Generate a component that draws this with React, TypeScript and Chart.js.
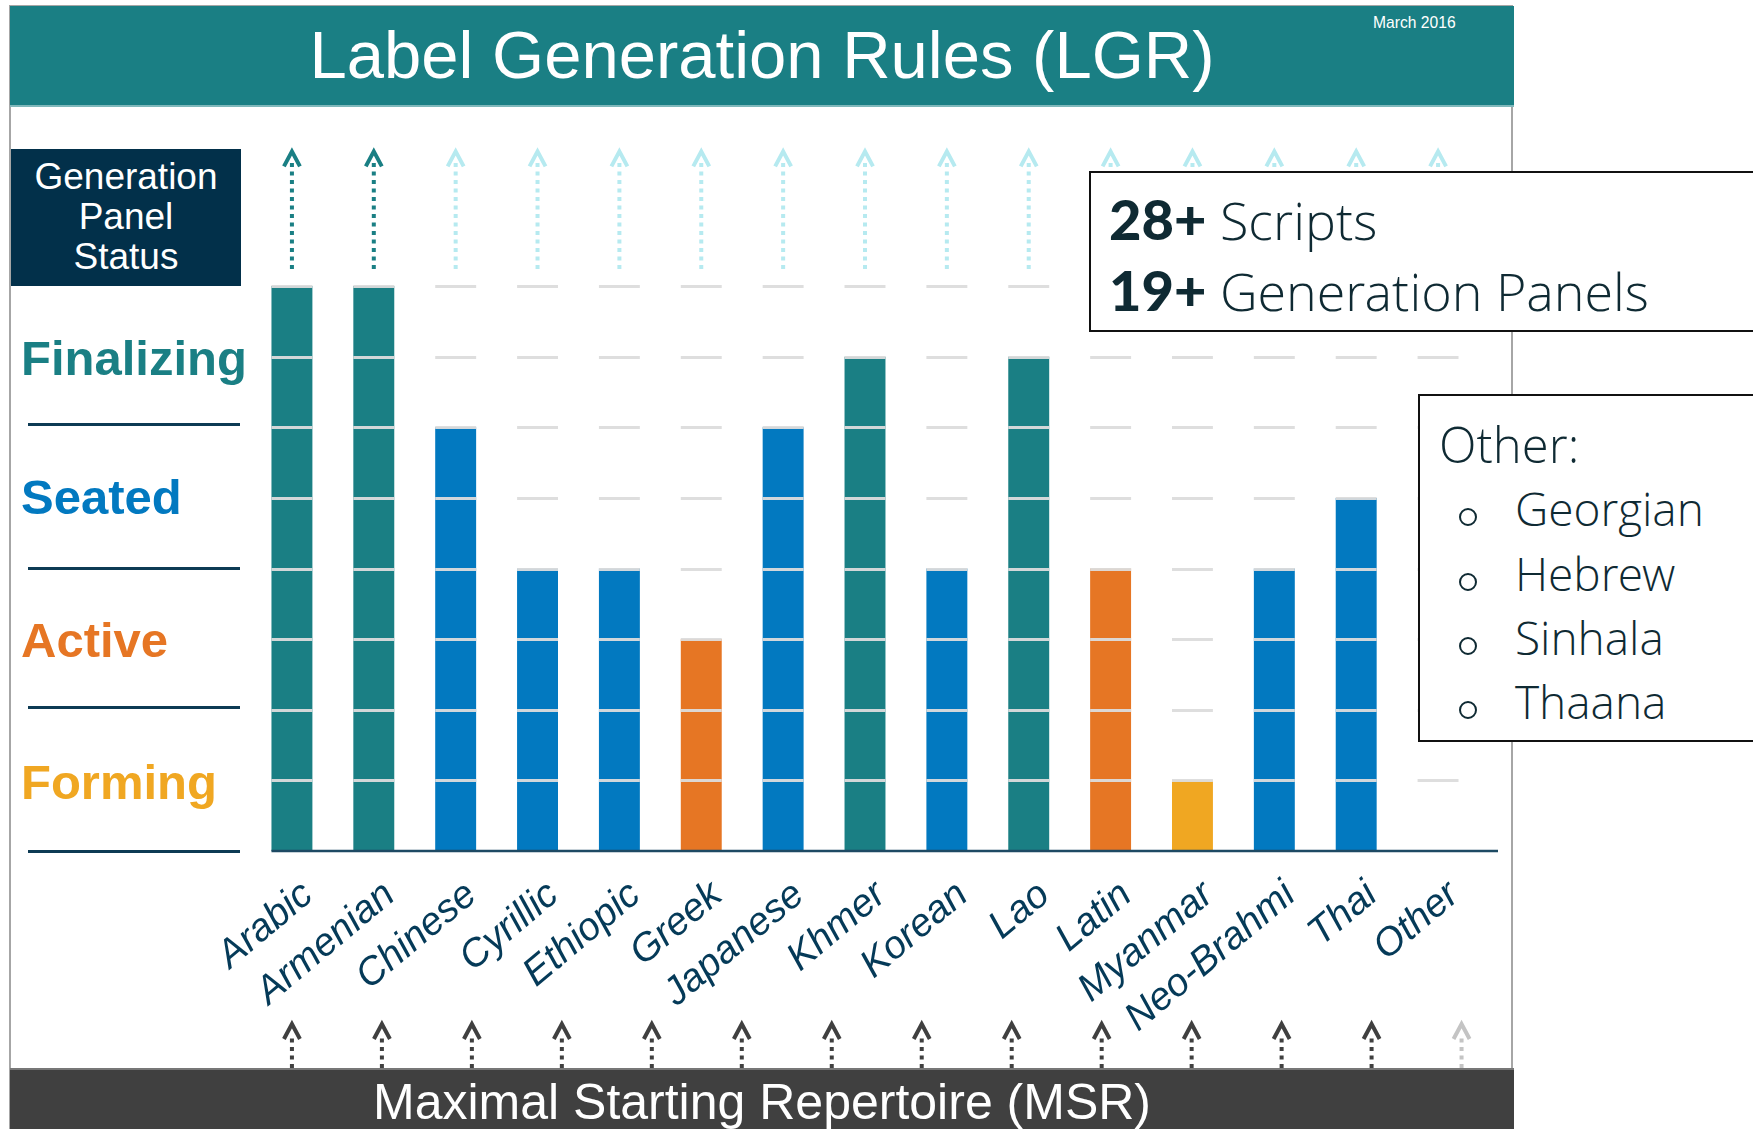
import React, { useEffect, useRef } from "react";
import { Chart, registerables } from "chart.js";

Chart.register(...registerables);

// ---------- data ----------
const scripts = ["Arabic", "Armenian", "Chinese", "Cyrillic", "Ethiopic", "Greek", "Japanese", "Khmer", "Korean", "Lao", "Latin", "Myanmar", "Neo-Brahmi", "Thai", "Other"];
const stageValues = [8, 8, 6, 4, 4, 3, 6, 7, 4, 7, 4, 1, 4, 5, 0];
const panelStatus = ["Finalizing", "Finalizing", "Seated", "Seated", "Seated", "Active", "Seated", "Finalizing", "Seated", "Finalizing", "Active", "Forming", "Seated", "Seated", "Other"];
const lgrDone = [true, true, false, false, false, false, false, false, false, false, false, false, false, false, false];
const msrDone = [true, true, true, true, true, true, true, true, true, true, true, true, true, false];
const gridLevels = [1, 2, 3, 4, 5, 6, 7, 8];
const statusLevels = ["Finalizing", "Seated", "Active", "Forming"];
const otherScripts = ["Georgian", "Hebrew", "Sinhala", "Thaana"];

const statusColors: Record<string, string> = {
  Finalizing: "#1a7f84",
  Seated: "#0279c0",
  Active: "#e67624",
  Forming: "#f0a722",
  Other: "#cccccc",
};

const TEAL = "#1a7f84";
const NAVY = "#02304a";
const SANS = '"Liberation Sans", Arial, sans-serif';
const LIGHT = '"Open Sans Light", "Open Sans", Lato, sans-serif';
const HEAVY = 'Lato, "Open Sans", sans-serif';
const BOXTEXT = "#0f2a33";

function drawArrow(ctx: CanvasRenderingContext2D, x: number, yBottom: number, yTip: number, color: string) {
  ctx.save();
  ctx.strokeStyle = color;
  ctx.lineWidth = 4;
  ctx.setLineDash([4, 4.5]);
  ctx.beginPath();
  ctx.moveTo(x, yBottom);
  ctx.lineTo(x, yTip + 12);
  ctx.stroke();
  ctx.setLineDash([]);
  ctx.lineJoin = "miter";
  ctx.beginPath();
  ctx.moveTo(x - 8, yTip + 16);
  ctx.lineTo(x, yTip + 1);
  ctx.lineTo(x + 8, yTip + 16);
  ctx.stroke();
  ctx.restore();
}

const decoPlugin = {
  id: "lgrDeco",
  afterDatasetsDraw(chart: any) {
    const { ctx, scales, chartArea } = chart;
    const x = scales.x;
    const y = scales.y;
    const meta = chart.getDatasetMeta(0);
    ctx.save();
    ctx.strokeStyle = "rgba(220,220,220,0.95)";
    ctx.lineWidth = 3;
    scripts.forEach((_, i) => {
      const cx = x.getPixelForValue(i);
      const w = meta.data[i].width;
      gridLevels.forEach((v) => {
        const py = Math.round(y.getPixelForValue(v)) + 0.5;
        ctx.beginPath();
        ctx.moveTo(cx - w / 2, py);
        ctx.lineTo(cx + w / 2, py);
        ctx.stroke();
      });
    });
    const w0 = meta.data[0].width;
    const by = y.getPixelForValue(0);
    ctx.strokeStyle = "#1d4a63";
    ctx.lineWidth = 2.5;
    ctx.beginPath();
    ctx.moveTo(x.getPixelForValue(0) - w0 / 2, by);
    ctx.lineTo(chartArea.right + 19, by);
    ctx.stroke();
    const top8 = y.getPixelForValue(8);
    const unit = y.getPixelForValue(7) - top8;
    scripts.forEach((_, i) => {
      const cx = x.getPixelForValue(i);
      drawArrow(ctx, cx, top8 - unit * 0.24, top8 - unit * 1.92, lgrDone[i] ? TEAL : "#b6eaf0");
    });
    const step = (x.getPixelForValue(1) - x.getPixelForValue(0)) * 1.099;
    const bottom = chart.height - 61;
    msrDone.forEach((done, j) => {
      const cx = x.getPixelForValue(0) + step * j;
      drawArrow(ctx, cx, bottom, bottom - 45, done ? "#404040" : "#c4c4c4");
    });
    ctx.restore();
  },
};

function Txt(props: { x: number; baseline: number; size: number; color: string; text: React.ReactNode; family?: string; weight?: number | string; center?: boolean; asc?: number; sx?: number }) {
  const asc = props.asc ?? 0.8465;
  const top = props.baseline - asc * props.size;
  const tf = (props.center ? "translateX(-50%) " : "") + (props.sx ? `scaleX(${props.sx})` : "");
  return (
    <div
      style={{
        position: "absolute",
        left: props.x,
        top,
        fontFamily: props.family ?? SANS,
        fontSize: props.size,
        fontWeight: props.weight ?? 400,
        lineHeight: 1,
        color: props.color,
        whiteSpace: "nowrap",
        transform: tf || undefined,
        transformOrigin: props.center ? "center" : "left",
      }}
    >
      {props.text}
    </div>
  );
}

export default function App() {
  const ref = useRef<HTMLCanvasElement | null>(null);

  useEffect(() => {
    if (!ref.current) return;
    const chart = new Chart(ref.current, {
      type: "bar",
      data: {
        labels: scripts,
        datasets: [
          {
            data: stageValues,
            backgroundColor: panelStatus.map((s) => statusColors[s]),
            borderWidth: 0,
            barPercentage: 1,
            categoryPercentage: 0.5,
          },
        ],
      },
      options: {
        animation: false,
        responsive: false,
        layout: { padding: { left: 251, right: 274, top: 286, bottom: 0 } },
        plugins: { legend: { display: false }, tooltip: { enabled: false }, title: { display: false } },
        scales: {
          x: {
            grid: { display: false, drawTicks: false },
            border: { display: false },
            ticks: {
              autoSkip: false,
              minRotation: 40,
              maxRotation: 40,
              padding: 21,
              labelOffset: 16,
              color: "#053a58",
              font: { family: SANS, size: 39, style: "italic" },
            },
            afterFit: (s: any) => {
              s.height = 278;
            },
          },
          y: { display: false, min: 0, max: 8 },
        },
      },
      plugins: [decoPlugin],
    } as any);
    return () => chart.destroy();
  }, []);

  const itemBaselines = [526, 591, 655, 719];
  // Open Sans: ascent 1.069, descent 0.293 -> baseline offset for line-height 1
  const osAsc = 1.069 - (1.069 + 0.293 - 1) / 2;

  return (
    <div style={{ position: "absolute", left: 0, top: 0, width: 1753, height: 1129, overflow: "hidden", background: "#fff" }}>
      <div style={{ position: "absolute", left: 9, top: 5, width: 1504, height: 1130, border: "2px solid #a6a6a6", boxSizing: "border-box" }} />
      <canvas ref={ref} width={1753} height={1129} style={{ position: "absolute", left: 0, top: 0, width: 1753, height: 1129 }} />

      {/* header */}
      <div style={{ position: "absolute", left: 10, top: 6, width: 1504, height: 101, background: TEAL, borderBottom: "2px solid #7fb8bb", boxSizing: "border-box" }} />
      <Txt x={762} baseline={78} size={67} color="#fff" text="Label Generation Rules (LGR)" center />
      <Txt x={1373} baseline={28} size={17} color="#fff" text="March 2016" sx={0.92} />

      {/* status box */}
      <div style={{ position: "absolute", left: 11, top: 149, width: 230, height: 137, background: NAVY }} />
      <Txt x={126} baseline={189} size={37} color="#fff" text="Generation" center />
      <Txt x={126} baseline={229} size={37} color="#fff" text="Panel" center />
      <Txt x={126} baseline={269} size={37} color="#fff" text="Status" center />

      {statusLevels.map((s, i) => (
        <Txt key={s} x={21} baseline={[375, 514, 657, 799][i]} size={49} weight={700} color={statusColors[s]} text={s} />
      ))}
      {[424, 568, 707, 851].map((yy) => (
        <div key={yy} style={{ position: "absolute", left: 28, top: yy - 1, width: 212, height: 2.5, background: "#0d3b54" }} />
      ))}

      {/* summary box */}
      <div style={{ position: "absolute", left: 1089, top: 171, width: 720, height: 161, background: "#fff", border: "2.5px solid #111", boxSizing: "border-box" }} />
      <Txt x={1109} baseline={237} size={52} family={LIGHT} asc={osAsc} weight={300} color={BOXTEXT} text={<><span style={{ fontFamily: HEAVY, fontWeight: 900, fontSize: 56 }}>28+</span> Scripts</>} />
      <Txt x={1109} baseline={308} size={52} family={LIGHT} asc={osAsc} weight={300} color={BOXTEXT} text={<><span style={{ fontFamily: HEAVY, fontWeight: 900, fontSize: 56 }}>19+</span> Generation Panels</>} />

      {/* other box */}
      <div style={{ position: "absolute", left: 1418, top: 394, width: 400, height: 348, background: "#fff", border: "2.5px solid #111", boxSizing: "border-box" }} />
      <Txt x={1439} baseline={464} size={49} family={LIGHT} asc={osAsc} weight={300} color={BOXTEXT} text="Other:" />
      {otherScripts.map((s, i) => (
        <React.Fragment key={s}>
          <div style={{ position: "absolute", left: 1459, top: itemBaselines[i] - 18, width: 18, height: 18, borderRadius: "50%", border: `2px solid ${BOXTEXT}`, boxSizing: "border-box" }} />
          <Txt x={1515} baseline={itemBaselines[i]} size={46} family={LIGHT} asc={osAsc} weight={300} color={BOXTEXT} text={s} />
        </React.Fragment>
      ))}

      {/* footer */}
      <div style={{ position: "absolute", left: 10, top: 1068, width: 1504, height: 61, background: "#404040", borderTop: "2px solid #777", boxSizing: "border-box" }} />
      <Txt x={762} baseline={1119} size={50} color="#fff" text="Maximal Starting Repertoire (MSR)" center />
    </div>
  );
}
